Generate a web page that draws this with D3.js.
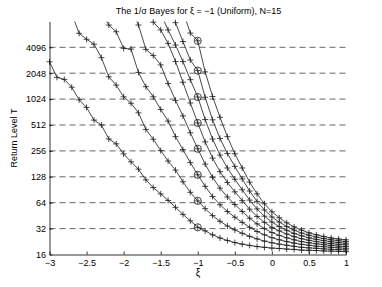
<!DOCTYPE html>
<html><head><meta charset="utf-8">
<script src="https://cdn.jsdelivr.net/npm/d3@7"></script>
<style>body{margin:0;background:#fff}svg{display:block}text{font-family:"Liberation Sans",Arial,sans-serif;fill:#000}</style>
</head><body>
<script>
// ---- data ----
const xiValues = [-3,-2.9,-2.8,-2.7,-2.6,-2.5,-2.4,-2.3,-2.2,-2.1,-2,-1.9,-1.8,-1.7,-1.6,-1.5,-1.4,-1.3,-1.2,-1.1,-1,
  -0.9,-0.8,-0.7,-0.6,-0.5,-0.4,-0.3,-0.2,-0.1,0,0.1,0.2,0.3,0.4,0.5,0.6,0.7,0.8,0.9,1];
const curveT32 = [2780,1833,1734,1409,1003,820,584,512,352,309,236,191,157,118,96,81,68,56.5,46.8,39.4,33.1,
  30.1,27.1,24.9,23.3,22.0,21.1,20.4,19.8,19.4,19.0,18.8,18.5,18.3,18.0,17.9,17.8,17.6,17.5,17.4,17.3];
const curveT64 = [null,null,null,10085,5955,5078,4452,3105,1859,1489,1090,916,709,455,350,258,195,153,112,84.5,67.2,
  54.6,45.3,38.9,34.3,30.9,28.2,26.0,24.3,22.9,21.9,21.1,20.5,19.9,19.4,19.1,18.9,18.6,18.4,18.2,18.1];
const curveT128 = [null,null,null,null,null,null,null,10813,7434,6209,3984,3901,2091,1428,1090,776,568,375,265,187,135,
  99.1,75.6,60.5,50.6,43.4,37.8,33.1,29.6,27.1,25.1,23.7,22.6,21.7,21.0,20.5,20.0,19.7,19.4,19.1,18.9];
const curveT256 = [null,null,null,null,null,null,null,null,null,null,null,11585,7434,3875,3281,2557,1552,989,653,416,271,
  179.8,126.3,94.4,74.6,61.0,50.6,42.2,36.3,32.0,28.8,26.7,25.0,23.7,22.6,21.9,21.3,20.8,20.4,20.0,19.8];
const curveT512 = [null,null,null,null,null,null,null,null,null,null,null,null,null,11585,8024,6517,4546,2798,1607,923,541,
  326,211,147,110,85.6,67.7,53.8,44.3,37.8,33.1,30.1,27.7,25.8,24.4,23.4,22.6,21.9,21.4,21.0,20.7];
const curveT1024 = [null,null,null,null,null,null,null,null,null,null,null,null,null,null,null,10085,6517,4359,2798,1722,1082,
  592,352,229,162,120,90.5,68.6,54.2,44.6,38.1,33.8,30.6,28.1,26.4,25.0,24.0,23.2,22.5,22.0,21.6];
const curveT2048 = [null,null,null,null,null,null,null,null,null,null,null,null,null,null,null,null,12417,7913,4772,2916,2195,
  1075,588,357,239,169,121,87.4,66.3,52.7,43.7,38.1,33.8,30.7,28.4,26.8,25.5,24.5,23.7,23.1,22.6];
const curveT4096 = [null,null,null,null,null,null,null,null,null,null,null,null,null,null,null,null,null,null,10813,5996,4871,
  2120,1098,630,375,237,162,111,81.0,62.2,50.2,42.8,37.4,33.5,30.7,28.6,27.1,25.9,24.9,24.2,23.7];
const circleXi = -1;
const circleT = [33.1,67.2,135,271,541,1082,2195,4871];
const yTickValues = [16,32,64,128,256,512,1024,2048,4096];
const gridValues = [32,64,128,256,512,1024,2048,4096];
const xTickValues = [-3,-2.5,-2,-1.5,-1,-0.5,0,0.5,1];
const xTickLabels = ["\u22123","\u22122.5","\u22122","\u22121.5","\u22121","\u22120.5","0","0.5","1"];
const titleText = "The 1/\u03c3 Bayes for \u03be = \u22121 (Uniform), N=15";
const yLabel = "Return Level T";
const xLabel = "\u03be";

// ---- chart ----
const W = 382, H = 287;
const L = 49.5, R = 346, T = 21.4, B = 254.5;
const svg = d3.select("body").append("svg").attr("width", W).attr("height", H);
const x = d3.scaleLinear().domain([-3, 1]).range([L, R]);
const y = d3.scaleLog().base(2).domain([16, 8192]).range([B, T]);

svg.append("defs").append("clipPath").attr("id", "clip")
  .append("rect").attr("x", L).attr("y", T).attr("width", R - L).attr("height", B - T);

// grid
svg.append("g").selectAll("line").data(gridValues).join("line")
  .attr("x1", L).attr("x2", R).attr("y1", d => y(d)).attr("y2", d => y(d))
  .attr("stroke", "#555").attr("stroke-width", 0.9).attr("stroke-dasharray", "6,4");

// curves
const curves = [curveT32, curveT64, curveT128, curveT256, curveT512, curveT1024, curveT2048, curveT4096];
const line = d3.line().x(d => x(d.xi)).y(d => y(d.t));
const plus = "M-3,0H3M0,-3V3";
curves.forEach(c => {
  const pts = c.map((t, i) => ({xi: xiValues[i], t})).filter(d => d.t !== null);
  svg.append("path").datum(pts).attr("d", line).attr("clip-path", "url(#clip)")
    .attr("fill", "none").attr("stroke", "#1a1a1a").attr("stroke-width", 0.8);
  svg.append("g").selectAll("path").data(pts.filter(d => d.t <= 8192 && d.t >= 16)).join("path")
    .attr("d", plus).attr("transform", d => `translate(${x(d.xi)},${y(d.t)})`)
    .attr("stroke", "#1a1a1a").attr("stroke-width", 0.8).attr("fill", "none");
});
// circles
svg.append("g").selectAll("circle").data(circleT).join("circle")
  .attr("cx", x(circleXi)).attr("cy", d => y(d)).attr("r", 3.6)
  .attr("fill", "none").attr("stroke", "#1a1a1a").attr("stroke-width", 0.8);

// axes
const yAxis = d3.axisLeft(y).tickValues(yTickValues).tickFormat(d3.format("d"))
  .tickSizeInner(-3).tickSizeOuter(0).tickPadding(3.5);
const gy = svg.append("g").attr("transform", `translate(${L},0)`).call(yAxis);
const xAxis = d3.axisBottom(x).tickValues(xTickValues).tickFormat((d, i) => xTickLabels[i])
  .tickSizeInner(-3).tickSizeOuter(0).tickPadding(5.6);
const gx = svg.append("g").attr("transform", `translate(0,${B})`).call(xAxis);
[gx, gy].forEach(g => {
  g.select(".domain").attr("stroke", "#000").attr("stroke-width", 0.8);
  g.selectAll(".tick line").attr("stroke", "#000").attr("stroke-width", 0.8);
  g.selectAll("text").attr("font-size", 9).attr("font-family", "Liberation Sans, Arial, sans-serif");
});

// labels
svg.append("text").attr("x", 198.5).attr("y", 13.5).attr("text-anchor", "middle")
  .attr("font-size", 9).text(titleText);
svg.append("text").attr("transform", "translate(17,138) rotate(-90)").attr("text-anchor", "middle")
  .attr("font-size", 9).text(yLabel);
svg.append("text").attr("x", 198).attr("y", 276).attr("text-anchor", "middle")
  .attr("font-size", 10).text(xLabel);
</script>
</body></html>
